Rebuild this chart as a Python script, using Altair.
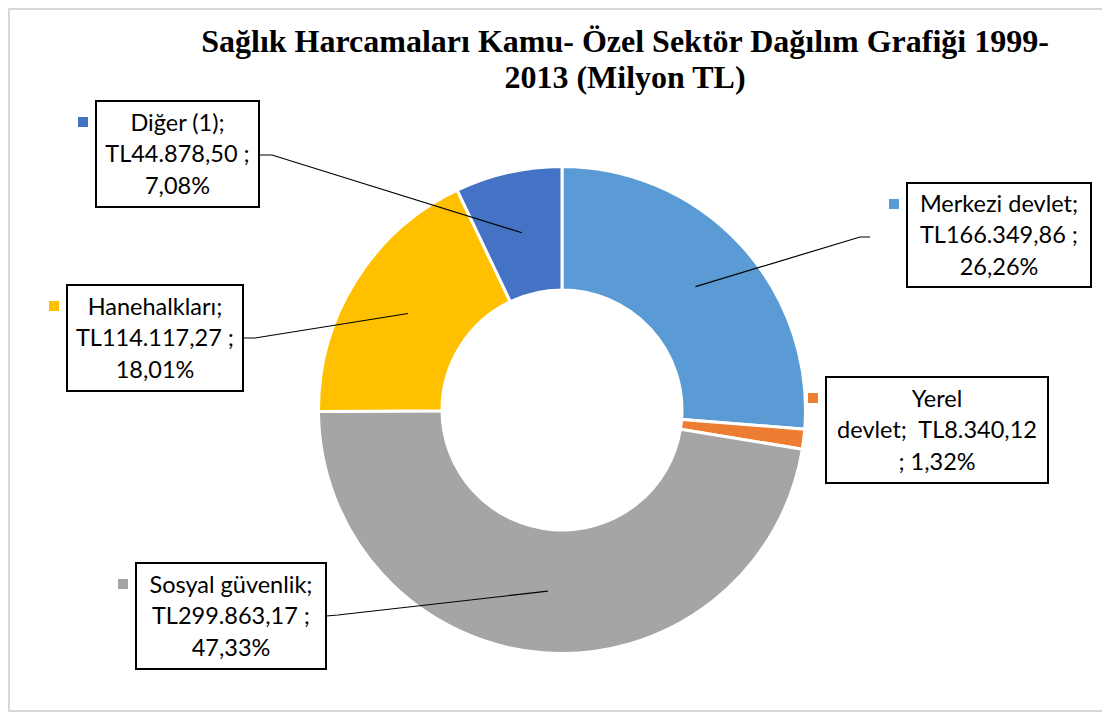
import math
import altair as alt
import pandas as pd

# ---- data ----
categories = ["Merkezi devlet", "Yerel devlet", "Sosyal güvenlik", "Hanehalkları", "Diğer (1)"]
values = [166349.86, 8340.12, 299863.17, 114117.27, 44878.50]
colors = ["#5B9BD5", "#ED7D31", "#A5A5A5", "#FFC000", "#4472C4"]
title_lines = ["Sağlık Harcamaları Kamu- Özel Sektör Dağılım Grafiği 1999-", "2013 (Milyon TL)"]

# ---- layout (pixels, chart coordinates) ----
W, H = 1094, 704
CX, CY = 554, 402
R_OUT, R_IN = 243.5, 120
LH = 31.5
# label boxes: left, top, right, bottom
boxes = {
    "Merkezi devlet": (899, 175, 1083, 279),
    "Yerel devlet": (818, 369, 1040, 475),
    "Sosyal güvenlik": (128, 555, 318, 661),
    "Hanehalkları": (59, 277, 235, 383),
    "Diğer (1)": (88, 93, 251, 199),
}
# leader line start + elbow (None = no leader)
leaders = {
    "Merkezi devlet": [(862, 229), (852, 229)],
    "Yerel devlet": None,
    "Sosyal güvenlik": [(318, 608), (330, 607)],
    "Hanehalkları": [(235, 330), (247, 330)],
    "Diğer (1)": [(251, 147), (264, 147)],
}


def tr_money(v):
    s = f"{v:,.2f}"
    return s.replace(",", "X").replace(".", ",").replace("X", ".")


total = sum(values)
pcts = [v / total * 100 for v in values]

arc_df = pd.DataFrame({"cat": categories, "value": values, "idx": list(range(len(values)))})

label_rows, square_rows, line_rows = [], [], []
cum = 0.0
for i, (c, v, p) in enumerate(zip(categories, values, pcts)):
    pct = f"{p:.2f}".replace(".", ",")
    money = tr_money(v)
    if c == "Yerel devlet":
        txt = f"Yerel\ndevlet;\u00a0 TL{money}\n; {pct}%"
    else:
        txt = f"{c};\nTL{money} ;\n{pct}%"
    l, t, r, b = boxes[c]
    label_rows.append({"cat": c, "txt": txt, "x": l, "x2": r, "y": t, "y2": b,
                       "tx": (l + r) / 2, "ty": (t + b) / 2 - LH + 1})
    square_rows.append({"cat": c, "x": l - 18, "x2": l - 8, "y": t + 16, "y2": t + 26})
    mid = (cum + v / 2) / total * 2 * math.pi
    cum += v
    rm = (R_OUT + R_IN) / 2
    ax = CX + rm * math.sin(mid)
    ay = CY - rm * math.cos(mid)
    if leaders[c]:
        pts = leaders[c] + [(ax, ay)]
        for k, (px, py) in enumerate(pts):
            line_rows.append({"cat": c, "k": k, "x": px, "y": py})

labels_df = pd.DataFrame(label_rows)
squares_df = pd.DataFrame(square_rows)
lines_df = pd.DataFrame(line_rows)
title_df = pd.DataFrame({"t": title_lines, "x": [617, 617], "y": [44, 80]})

color_scale = alt.Scale(domain=categories, range=colors)

frame = alt.Chart(pd.DataFrame({"a": [0]})).mark_rect(
    fill="white", stroke="#d9d9d9", strokeWidth=2
).encode(x=alt.value(1), x2=alt.value(1110), y=alt.value(1), y2=alt.value(703))

arcs = alt.Chart(arc_df).mark_arc(
    radius=R_OUT, innerRadius=R_IN, stroke="white", strokeWidth=3
).encode(
    theta=alt.Theta("value:Q", stack=True),
    order=alt.Order("idx:Q"),
    color=alt.Color("cat:N", scale=color_scale, legend=None),
    x=alt.value(CX), y=alt.value(CY),
)

leader = alt.Chart(lines_df).mark_line(color="black", strokeWidth=1.2).encode(
    x=alt.X("x:Q", scale=None), y=alt.Y("y:Q", scale=None),
    detail="cat:N", order="k:Q",
)

box = alt.Chart(labels_df).mark_rect(fill="white", stroke="black", strokeWidth=2).encode(
    x=alt.X("x:Q", scale=None), x2="x2:Q", y=alt.Y("y:Q", scale=None), y2="y2:Q"
)

squares = alt.Chart(squares_df).mark_rect().encode(
    x=alt.X("x:Q", scale=None), x2="x2:Q", y=alt.Y("y:Q", scale=None), y2="y2:Q",
    color=alt.Color("cat:N", scale=color_scale, legend=None),
)

texts = alt.Chart(labels_df).mark_text(
    font="Lato", fontSize=23.5, color="#000000", align="center", baseline="middle",
    lineBreak="\n", lineHeight=LH,
).encode(x=alt.X("tx:Q", scale=None), y=alt.Y("ty:Q", scale=None), text="txt:N")

title = alt.Chart(title_df).mark_text(
    font="Liberation Serif", fontSize=32, fontWeight="bold", color="#000000",
    align="center", baseline="alphabetic",
).encode(x=alt.X("x:Q", scale=None), y=alt.Y("y:Q", scale=None), text="t:N")

chart = alt.layer(frame, arcs, leader, box, squares, texts, title).properties(
    width=W, height=H, autosize=alt.AutoSizeParams(type="none"), padding=0
).configure_view(strokeWidth=0)

chart.save("out.html", embed_options={"renderer": "svg", "actions": False})
